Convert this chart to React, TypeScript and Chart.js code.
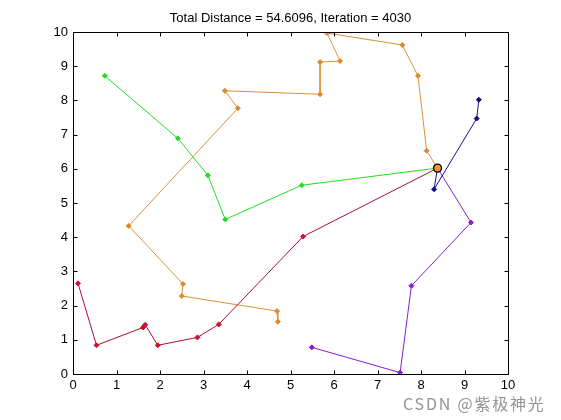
import React, { useEffect, useRef } from "react";
import { Chart, registerables } from "chart.js";

Chart.register(...registerables);

const titleText = "Total Distance = 54.6096, Iteration = 4030";
const axisTicks = [0, 1, 2, 3, 4, 5, 6, 7, 8, 9, 10];

const depotX = [8.38];
const depotY = [6.02];

const greenX = [8.38, 5.26, 3.5, 3.1, 2.41, 0.73];
const greenY = [6.02, 5.52, 4.52, 5.81, 6.89, 8.72];

const redX = [8.38, 5.29, 3.35, 2.86, 1.95, 1.66, 1.61, 0.54, 0.115];
const redY = [6.02, 4.02, 1.45, 1.07, 0.84, 1.44, 1.36, 0.84, 2.65];

const orangeX = [8.38, 8.13, 7.93, 7.57, 5.84, 6.14, 5.68, 5.68, 3.49, 3.79, 1.28, 2.53, 2.5, 4.69, 4.71];
const orangeY = [6.02, 6.53, 8.72, 9.62, 9.97, 9.15, 9.12, 8.18, 8.28, 7.77, 4.33, 2.63, 2.28, 1.84, 1.53];

const blueX = [8.38, 8.3, 9.28, 9.33];
const blueY = [6.02, 5.4, 7.47, 8.02];

const purpleX = [8.38, 9.15, 7.78, 7.52, 5.49];
const purpleY = [6.02, 4.43, 2.58, 0.04, 0.78];

const toPts = (xs: number[], ys: number[]) => xs.map((x, i) => ({ x, y: ys[i] }));

const route = (label: string, xs: number[], ys: number[], line: string, mark: string) => ({
  label,
  data: toPts(xs, ys),
  showLine: true,
  borderColor: line,
  borderWidth: 1,
  backgroundColor: mark,
  pointBackgroundColor: mark,
  pointBorderColor: mark,
  pointStyle: "rectRot",
  pointRadius: (ctx: any) => (ctx.dataIndex === 0 ? 0 : 2.5),
  pointBorderWidth: 1,
  tension: 0,
});

const FONT = "'Liberation Sans', Arial, Helvetica, sans-serif";
const TITLE_FONT = "'Liberation Sans Narrow', 'Arial Narrow', 'Liberation Sans', Arial, sans-serif";

const matlabBox = {
  id: "matlabBox",
  afterDraw(chart: any) {
    const { ctx, chartArea } = chart;
    const xs = chart.scales.x;
    const ys = chart.scales.y;
    const L = Math.round(chartArea.left) + 0.5;
    const R = Math.round(chartArea.right) + 0.5;
    const T = Math.round(chartArea.top) + 0.5;
    const B = Math.round(chartArea.bottom) + 0.5;
    const len = 4;
    ctx.save();
    ctx.strokeStyle = "#000";
    ctx.lineWidth = 1;
    ctx.beginPath();
    ctx.rect(L, T, R - L, B - T);
    xs.ticks.forEach((t: any) => {
      const px = Math.round(xs.getPixelForValue(t.value)) + 0.5;
      ctx.moveTo(px, B);
      ctx.lineTo(px, B - len);
      ctx.moveTo(px, T);
      ctx.lineTo(px, T + len);
    });
    ys.ticks.forEach((t: any) => {
      const py = Math.round(ys.getPixelForValue(t.value)) + 0.5;
      ctx.moveTo(L, py);
      ctx.lineTo(L + len, py);
      ctx.moveTo(R, py);
      ctx.lineTo(R - len, py);
    });
    ctx.stroke();
    ctx.restore();
  },
};

export default function App() {
  const ref = useRef<HTMLCanvasElement | null>(null);

  useEffect(() => {
    if (!ref.current) return;
    const chart = new Chart(ref.current, {
      type: "scatter",
      data: {
        datasets: [
          {
            label: "Depot",
            data: toPts(depotX, depotY),
            pointStyle: "circle",
            pointRadius: 4,
            pointBorderWidth: 1.3,
            pointBackgroundColor: "#e8963a",
            pointBorderColor: "#000",
            showLine: false,
          } as any,
          route("Route 1", greenX, greenY, "#22dd22", "#22dd22"),
          route("Route 2", redX, redY, "#a8102c", "#cc1133"),
          route("Route 3", orangeX, orangeY, "#d9903a", "#d98a30"),
          route("Route 4", blueX, blueY, "#10108a", "#10108a"),
          route("Route 5", purpleX, purpleY, "#8a1ed0", "#8a1ed0"),
        ],
      },
      plugins: [matlabBox],
      options: {
        responsive: false,
        animation: false,
        layout: { padding: { left: 0, right: 53, top: 0, bottom: 0 } },
        plugins: {
          legend: { display: false },
          tooltip: { enabled: false },
          title: {
            display: true,
            fullSize: false,
            text: titleText,
            color: "#000",
            font: { family: TITLE_FONT, size: 13, weight: "normal", lineHeight: 1.2 },
            padding: { top: 10.5, bottom: 5.9 },
          },
        },
        scales: {
          x: {
            type: "linear",
            position: "bottom",
            min: 0,
            max: 10,
            afterBuildTicks: (s: any) => {
              s.ticks = axisTicks.map((v) => ({ value: v }));
            },
            afterFit: (s: any) => {
              s.height = 46;
            },
            ticks: {
              color: "#000",
              font: { family: FONT, size: 13 },
              padding: 4,
              maxRotation: 0,
              autoSkip: false,
            },
            grid: { display: false, drawOnChartArea: false, drawTicks: false },
            border: { display: false },
          },
          y: {
            type: "linear",
            position: "left",
            min: 0,
            max: 10,
            afterBuildTicks: (s: any) => {
              s.ticks = axisTicks.map((v) => ({ value: v }));
            },
            afterFit: (s: any) => {
              s.width = 73;
            },
            ticks: {
              color: "#000",
              font: { family: FONT, size: 13 },
              padding: 5,
              autoSkip: false,
            },
            grid: { display: false, drawOnChartArea: false, drawTicks: false },
            border: { display: false },
          },
        },
      },
    } as any);
    return () => chart.destroy();
  }, []);

  return (
    <div style={{ position: "absolute", left: 0, top: 0, width: 561, height: 420, background: "#fff" }}>
      <canvas ref={ref} width={561} height={420} style={{ display: "block" }} />
      <div
        style={{
          position: "absolute",
          left: 403,
          top: 391,
          fontFamily: "'Noto Sans CJK SC', 'Liberation Sans', sans-serif",
          fontSize: 16,
          color: "rgba(110,110,110,0.75)",
          letterSpacing: 1.8,
          whiteSpace: "nowrap",
        }}
      >
        CSDN @紫极神光
      </div>
    </div>
  );
}
